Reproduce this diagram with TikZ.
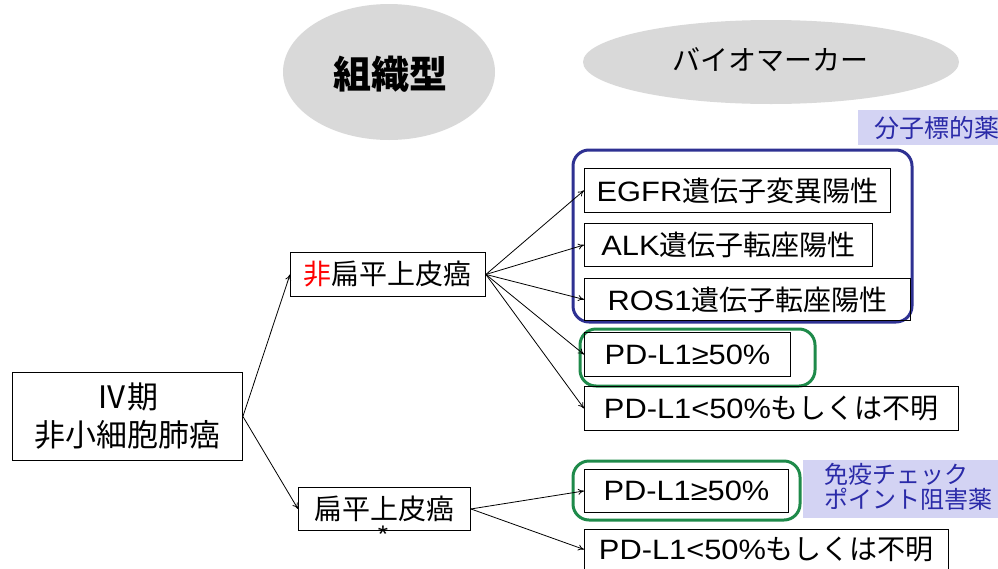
\documentclass[tikz,border=0pt]{standalone}
\usepackage{fontspec}
\setmainfont{Noto Sans CJK JP}
\newfontfamily\lat[FakeStretch=1.1]{Liberation Sans}
\usetikzlibrary{arrows.meta,shapes.geometric}
\definecolor{ellgray}{HTML}{D9D9D9}
\definecolor{navy}{HTML}{2E3192}
\definecolor{grn}{HTML}{1E8A4A}
\definecolor{lav}{HTML}{D3D3F3}
\definecolor{lavtxt}{HTML}{2A2AA8}
\begin{document}
\begin{tikzpicture}[x=1pt,y=-1pt,
  box/.style={draw=black, line width=0.9pt, inner sep=0pt, anchor=north west, font=\fontsize{28}{30}\selectfont},
  arr/.style={-{To[length=6pt,width=6pt]}, line width=0.8pt},
  grp/.style={rounded corners=16pt, line width=3pt},
  lbl/.style={fill=lav, text=lavtxt, inner sep=0pt, anchor=north west, font=\fontsize{24}{25}\selectfont, align=left}
]
\clip (0,0) rectangle (998,568);
% header ellipses
\node[ellipse, fill=ellgray, minimum width=212, minimum height=136, inner sep=0pt] (ht) at (389,72) {};
\node[font=\fontsize{38}{40}\selectfont\bfseries] (htt) at (390,74) {組織型};
\node[ellipse, fill=ellgray, minimum width=376, minimum height=84, inner sep=0pt] (bm) at (771,62) {};
\node[font=\fontsize{28}{30}\selectfont] (bmt) at (770,60) {バイオマーカー};
% labels
\node[lbl, minimum width=145, minimum height=35, font=\fontsize{25}{26}\selectfont] (l1) at (858,110) {\hspace*{12pt}分子標的薬};
\node[lbl, minimum width=196, minimum height=58] (l2) at (803,460) {\hspace*{14pt}\begin{tabular}{@{}l@{}}免疫チェック\\[-3pt]ポイント阻害薬\end{tabular}};
% group frames
\draw[grp, navy] (573,150) rectangle (912,322);
\draw[grp, grn] (580,329) rectangle (815,386);
\draw[grp, grn] (573,461) rectangle (800,520);
% boxes
\node[box, minimum width=230, minimum height=88, align=center, font=\fontsize{31}{38}\selectfont] (iv) at (12,372) {Ⅳ期\\非小細胞肺癌};
\node[box, minimum width=195, minimum height=44] (nsq) at (290,252) {{\color{red}非}扁平上皮癌};
\node[box, minimum width=172, minimum height=43] (sq) at (298,487) {扁平上皮癌};
\node[font=\fontsize{24}{24}\selectfont\lat, inner sep=0pt] (ast) at (383,534) {*};
\node[box, minimum width=306, minimum height=44] (egfr) at (584,168) {{\lat EGFR}遺伝子変異陽性};
\node[box, minimum width=288, minimum height=43] (alk) at (584,223) {{\lat ALK}遺伝子転座陽性};
\node[box, minimum width=326, minimum height=42] (ros) at (584,278) {{\lat ROS1}遺伝子転座陽性};
\node[box, minimum width=206, minimum height=44] (pd1) at (584,332) {{\lat PD-L1≥50\%}};
\node[box, minimum width=374, minimum height=44] (pd2) at (584,386) {{\lat PD-L1<50\%}もしくは不明};
\node[box, minimum width=204, minimum height=43] (pd3) at (584,469) {{\lat PD-L1≥50\%}};
\node[box, minimum width=364, minimum height=40] (pd4) at (584,529) {{\lat PD-L1<50\%}もしくは不明};
% arrows
\draw[arr] (iv.east) -- (nsq.west);
\draw[arr] (iv.east) -- (sq.west);
\draw[arr] (nsq.east) -- (egfr.west);
\draw[arr] (nsq.east) -- (alk.west);
\draw[arr] (nsq.east) -- (ros.west);
\draw[arr] (nsq.east) -- (pd1.west);
\draw[arr] (nsq.east) -- (pd2.west);
\draw[arr] (sq.east) -- (pd3.west);
\draw[arr] (sq.east) -- (pd4.west);
\end{tikzpicture}
\end{document}
